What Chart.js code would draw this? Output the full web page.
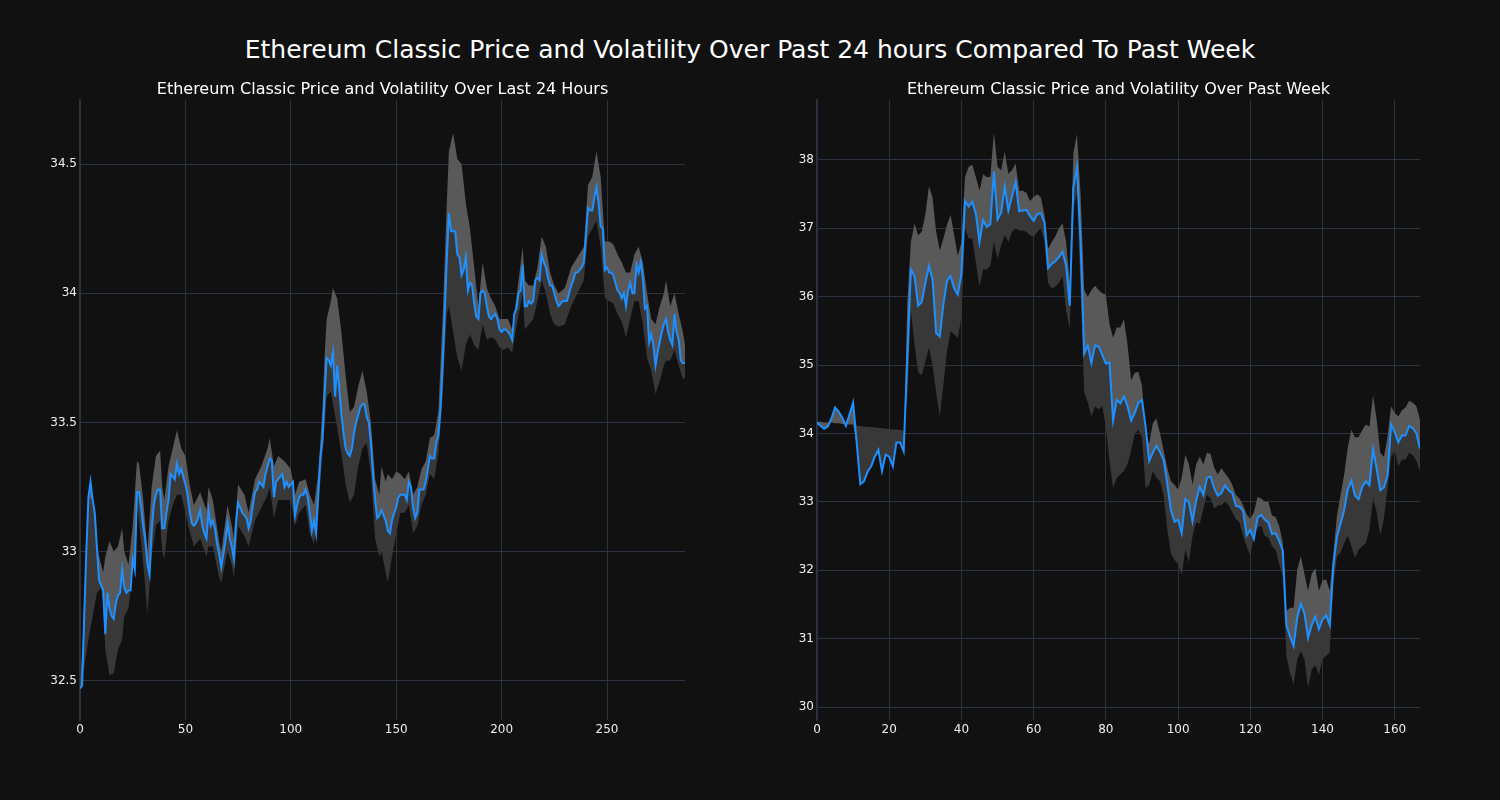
<!DOCTYPE html>
<html>
<head>
<meta charset="utf-8">
<script src="https://cdn.jsdelivr.net/npm/chart.js@4.4.0/dist/chart.umd.min.js"></script>
<style>
  html, body { margin: 0; padding: 0; background: #111111; }
  body { width: 1500px; height: 800px; position: relative; overflow: hidden; font-family: "DejaVu Sans", sans-serif; }
  #suptitle { position: absolute; left: 0; top: 34px; width: 1500px; text-align: center; color: #ffffff; font-size: 25px; line-height: 32px; }
  .subtitle { position: absolute; top: 78px; text-align: center; color: #ffffff; font-size: 16px; line-height: 22px; white-space: nowrap; }
  .box { position: absolute; top: 60px; width: 750px; height: 700px; }
</style>
</head>
<body>
<div id="suptitle">Ethereum Classic Price and Volatility Over Past 24 hours Compared To Past Week</div>
<div class="box" style="left:0"><canvas id="dayChart" width="750" height="700"></canvas></div>
<div class="box" style="left:750px"><canvas id="weekChart" width="750" height="700"></canvas></div>
<div class="subtitle" style="left:80px; width:605px">Ethereum Classic Price and Volatility Over Last 24 Hours</div>
<div class="subtitle" style="left:817px; width:603px">Ethereum Classic Price and Volatility Over Past Week</div>
<script>
// last 24 hours, 5 minute steps
const dayPrice = [
  32.47, 32.48, 32.75, 33.00, 33.21, 33.27, 33.20, 33.15, 33.02, 32.89,
  32.87, 32.85, 32.68, 32.84, 32.78, 32.75, 32.74, 32.80, 32.83, 32.84,
  32.93, 32.86, 32.84, 32.85, 32.85, 32.97, 32.93, 33.23, 33.23, 33.17,
  33.10, 33.04, 32.95, 32.91, 33.08, 33.18, 33.22, 33.24, 33.24, 33.09,
  33.09, 33.15, 33.20, 33.30, 33.29, 33.28, 33.34, 33.30, 33.32, 33.29,
  33.26, 33.22, 33.16, 33.11, 33.10, 33.11, 33.13, 33.16, 33.10, 33.07,
  33.05, 33.16, 33.10, 33.12, 33.09, 33.03, 32.99, 32.94, 32.99, 33.04,
  33.11, 33.05, 33.02, 32.97, 33.11, 33.19, 33.17, 33.15, 33.14, 33.13,
  33.09, 33.12, 33.18, 33.23, 33.24, 33.27, 33.26, 33.25, 33.30, 33.33,
  33.36, 33.35, 33.21, 33.27, 33.28, 33.29, 33.30, 33.25, 33.27, 33.25,
  33.26, 33.27, 33.14, 33.18, 33.21, 33.22, 33.22, 33.24, 33.21, 33.15,
  33.08, 33.12, 33.07, 33.22, 33.36, 33.43, 33.60, 33.75, 33.74, 33.72,
  33.77, 33.60, 33.72, 33.63, 33.53, 33.46, 33.40, 33.38, 33.37, 33.40,
  33.46, 33.50, 33.53, 33.56, 33.57, 33.57, 33.52, 33.50, 33.42, 33.30,
  33.20, 33.13, 33.14, 33.16, 33.14, 33.12, 33.08, 33.07, 33.12, 33.15,
  33.17, 33.21, 33.22, 33.22, 33.22, 33.20, 33.27, 33.25, 33.17, 33.13,
  33.15, 33.24, 33.24, 33.24, 33.27, 33.32, 33.37, 33.36, 33.36, 33.42,
  33.45, 33.55, 33.72, 33.92, 34.13, 34.31, 34.24, 34.24, 34.24, 34.15,
  34.14, 34.07, 34.09, 34.14, 34.01, 34.04, 34.03, 33.96, 33.91, 33.90,
  34.00, 34.01, 34.00, 33.95, 33.91, 33.90, 33.91, 33.92, 33.90, 33.86,
  33.85, 33.86, 33.86, 33.85, 33.84, 33.82, 33.92, 33.94, 34.00, 34.01,
  34.11, 33.95, 33.95, 33.97, 33.96, 33.97, 34.05, 34.06, 34.05, 34.15,
  34.12, 34.10, 34.06, 34.03, 34.03, 34.00, 33.97, 33.95, 33.96, 33.97,
  33.97, 33.97, 34.00, 34.03, 34.05, 34.08, 34.08, 34.09, 34.10, 34.12,
  34.22, 34.33, 34.32, 34.32, 34.37, 34.41, 34.35, 34.26, 34.25, 34.09,
  34.10, 34.08, 34.08, 34.07, 34.04, 34.01, 34.00, 33.98, 34.00, 33.95,
  34.01, 34.04, 34.00, 34.00, 34.11, 34.08, 34.12, 34.06, 33.94, 33.95,
  33.81, 33.84, 33.80, 33.72, 33.77, 33.81, 33.85, 33.88, 33.90, 33.85,
  33.82, 33.80, 33.92, 33.85, 33.82, 33.74, 33.73, 33.73
];

// volatility band edges for the 24 hour chart
const dayBandX = [
  0, 2, 4, 6, 8, 10, 11, 12, 14, 16,
  18, 20, 21, 23, 25, 27, 28, 30, 32, 34,
  36, 38, 39, 40, 42, 44, 46, 48, 50, 52,
  54, 57, 60, 61, 63, 66, 67, 70, 72, 73,
  75, 78, 80, 83, 86, 89, 90, 92, 94, 97,
  100, 102, 104, 107, 109, 111, 113, 115, 116, 117,
  119, 120, 122, 124, 126, 128, 130, 132, 134, 136,
  138, 140, 142, 143, 145, 146, 148, 150, 152, 154,
  156, 158, 160, 162, 164, 166, 168, 170, 172, 174,
  175, 177, 179, 181, 183, 185, 187, 189, 191, 193,
  195, 197, 199, 201, 203, 205, 207, 210, 211, 213,
  215, 217, 219, 221, 223, 225, 227, 230, 233, 236,
  239, 241, 243, 245, 247, 249, 251, 253, 255, 257,
  259, 261, 263, 265, 267, 269, 271, 273, 275, 277,
  278, 280, 282, 284, 286, 287
];
const dayUpper = [
  32.47, 32.75, 33.21, 33.20, 33.02, 32.95, 32.92, 32.98, 33.04, 33.00,
  33.02, 33.09, 33.00, 32.95, 33.10, 33.35, 33.34, 33.20, 33.00, 33.25,
  33.37, 33.39, 33.25, 33.20, 33.33, 33.40, 33.47, 33.40, 33.37, 33.26,
  33.18, 33.23, 33.16, 33.25, 33.20, 33.04, 33.00, 33.18, 33.10, 33.05,
  33.26, 33.22, 33.15, 33.28, 33.33, 33.40, 33.44, 33.33, 33.37, 33.35,
  33.32, 33.22, 33.27, 33.28, 33.22, 33.18, 33.30, 33.55, 33.75, 33.90,
  33.97, 34.02, 33.98, 33.85, 33.68, 33.54, 33.56, 33.64, 33.70, 33.62,
  33.50, 33.28, 33.22, 33.33, 33.27, 33.30, 33.28, 33.31, 33.30, 33.28,
  33.31, 33.22, 33.25, 33.32, 33.35, 33.44, 33.45, 33.54, 33.90, 34.35,
  34.55, 34.62, 34.52, 34.50, 34.35, 34.25, 34.10, 33.95, 34.12, 34.02,
  33.98, 33.95, 33.90, 33.90, 33.90, 33.86, 33.98, 34.18, 34.05, 34.03,
  34.03, 34.10, 34.22, 34.18, 34.08, 34.03, 34.00, 34.02, 34.10, 34.14,
  34.18, 34.42, 34.45, 34.55, 34.45, 34.20, 34.20, 34.19, 34.15, 34.12,
  34.08, 34.08, 34.15, 34.18, 34.12, 34.00, 33.90, 33.88, 33.95, 34.00,
  34.05, 33.95, 34.00, 33.92, 33.85, 33.80
];
const dayLower = [
  32.47, 32.55, 32.66, 32.75, 32.84, 32.86, 32.80, 32.62, 32.52, 32.53,
  32.62, 32.66, 32.75, 32.78, 32.93, 33.18, 33.12, 32.95, 32.76, 32.98,
  33.10, 33.12, 33.00, 32.97, 33.12, 33.18, 33.22, 33.22, 33.15, 33.08,
  33.02, 33.05, 32.98, 33.02, 33.02, 32.90, 32.88, 33.00, 32.95, 32.90,
  33.10, 33.06, 33.02, 33.12, 33.17, 33.22, 33.25, 33.13, 33.20, 33.20,
  33.20, 33.10, 33.15, 33.18, 33.07, 33.03, 33.15, 33.38, 33.48, 33.60,
  33.62, 33.57, 33.48, 33.38, 33.26, 33.19, 33.22, 33.33, 33.40, 33.42,
  33.30, 33.05, 32.98, 33.00, 32.92, 32.88, 32.98, 33.07, 33.15, 33.15,
  33.18, 33.07, 33.10, 33.18, 33.22, 33.30, 33.28, 33.38, 33.60, 33.92,
  33.95, 33.85, 33.75, 33.70, 33.80, 33.84, 33.80, 33.78, 33.88, 33.82,
  33.83, 33.82, 33.79, 33.78, 33.79, 33.77, 33.87, 34.00, 33.86, 33.88,
  33.90, 33.97, 34.05, 34.00, 33.92, 33.88, 33.87, 33.88, 33.95, 34.00,
  34.05, 34.22, 34.25, 34.28, 34.18, 33.98, 33.97, 33.96, 33.92, 33.89,
  33.83, 33.90, 33.97, 33.97, 33.88, 33.75, 33.70, 33.61, 33.66, 33.72,
  33.74, 33.74, 33.78, 33.72, 33.67, 33.67
];

// past week, hourly steps
const weekPrice = [
  34.16, 34.11, 34.07, 34.10, 34.22, 34.38, 34.32, 34.23, 34.11, 34.28,
  34.45, 33.86, 33.26, 33.30, 33.44, 33.52, 33.66, 33.76, 33.45, 33.69,
  33.66, 33.52, 33.87, 33.87, 33.74, 35.10, 36.40, 36.30, 35.87, 35.92,
  36.20, 36.45, 36.25, 35.47, 35.42, 35.89, 36.23, 36.30, 36.12, 36.03,
  36.34, 37.40, 37.32, 37.39, 37.21, 36.80, 37.12, 37.02, 37.06, 37.83,
  37.13, 37.23, 37.61, 37.26, 37.47, 37.68, 37.25, 37.26, 37.27, 37.18,
  37.11, 37.21, 37.22, 37.09, 36.42, 36.48, 36.52, 36.58, 36.66, 36.45,
  35.87, 37.60, 37.89, 36.80, 35.17, 35.29, 35.03, 35.29, 35.27, 35.15,
  35.02, 35.04, 34.19, 34.49, 34.44, 34.54, 34.40, 34.19, 34.30, 34.45,
  34.49, 34.10, 33.60, 33.72, 33.82, 33.73, 33.61, 33.27, 32.88, 32.71,
  32.74, 32.54, 33.04, 32.99, 32.71, 33.02, 33.22, 33.10, 33.35, 33.37,
  33.20, 33.09, 33.13, 33.24, 33.17, 33.13, 32.94, 32.93, 32.87, 32.51,
  32.59, 32.46, 32.77, 32.81, 32.74, 32.70, 32.53, 32.54, 32.43, 32.29,
  31.20, 31.03, 30.89, 31.31, 31.51, 31.37, 31.01, 31.20, 31.32, 31.14,
  31.28, 31.34, 31.20, 32.07, 32.49, 32.68, 32.88, 33.18, 33.31, 33.09,
  33.04, 33.22, 33.30, 33.24, 33.77, 33.48, 33.17, 33.21, 33.38, 34.13,
  34.02, 33.87, 33.97, 33.97, 34.11, 34.08, 34.00, 33.78
];
const weekUpper = [
  34.17, 34.17, 34.16, 34.16, 34.16, 34.15, 34.15, 34.14, 34.14, 34.13,
  34.13, 33.86, 33.26, 33.30, 33.44, 33.52, 33.66, 33.76, 33.45, 33.69,
  33.66, 33.52, 33.87, 33.87, 33.74, 35.90, 36.80, 37.07, 36.90, 36.95,
  37.20, 37.62, 37.45, 36.95, 36.68, 36.85, 37.05, 37.20, 36.90, 36.60,
  36.80, 37.75, 37.90, 37.93, 37.75, 37.55, 37.79, 37.75, 37.75, 38.40,
  37.90, 37.85, 38.12, 37.80, 37.85, 37.95, 37.55, 37.55, 37.52, 37.40,
  37.46, 37.50, 37.45, 37.20, 36.70, 36.80, 36.88, 37.00, 37.07, 36.80,
  36.20, 38.10, 38.38, 37.50, 36.10, 36.00, 36.10, 36.16, 36.10, 36.05,
  36.03, 35.60, 35.40, 35.55, 35.55, 35.67, 35.30, 34.78, 34.89, 34.90,
  34.70, 34.00, 33.85, 34.15, 34.22, 34.00, 33.75, 33.50, 33.30, 33.25,
  33.18, 33.35, 33.69, 33.55, 33.25, 33.55, 33.66, 33.55, 33.72, 33.70,
  33.50, 33.40, 33.49, 33.42, 33.35, 33.25, 33.10, 33.05, 32.95, 32.82,
  32.75, 32.85, 33.07, 33.05, 33.00, 33.00, 32.80, 32.78, 32.65, 32.40,
  31.40, 31.45, 31.45, 32.01, 32.20, 31.95, 31.70, 31.95, 32.03, 31.70,
  31.85, 31.87, 31.70, 32.25, 32.80, 33.10, 33.40, 33.80, 34.05, 33.94,
  33.95, 34.05, 34.13, 34.10, 34.56, 34.20, 33.72, 33.66, 33.95, 34.40,
  34.30, 34.25, 34.34, 34.38, 34.48, 34.45, 34.40, 34.20
];
const weekLower = [
  34.16, 34.11, 34.07, 34.10, 34.22, 34.38, 34.32, 34.23, 34.11, 34.28,
  34.45, 34.11, 34.11, 34.10, 34.10, 34.09, 34.09, 34.08, 34.08, 34.07,
  34.07, 34.06, 34.06, 34.05, 34.04, 34.50, 35.80, 35.30, 34.90, 34.85,
  35.05, 35.25, 35.00, 34.60, 34.25, 34.70, 35.20, 35.50, 35.45, 35.40,
  35.70, 37.00, 36.85, 36.85, 36.50, 36.15, 36.40, 36.40, 36.45, 36.80,
  36.56, 36.75, 36.90, 36.80, 36.95, 37.00, 36.97, 36.97, 36.95, 36.90,
  36.88, 36.95, 37.00, 36.80, 36.20, 36.12, 36.15, 36.20, 36.30, 35.80,
  35.53, 37.30, 37.50, 36.10, 34.60, 34.45, 34.25, 34.40, 34.35, 34.40,
  34.10, 33.60, 33.20, 33.35, 33.40, 33.45, 33.55, 33.75, 34.00, 34.05,
  33.95, 33.20, 33.25, 33.45, 33.35, 33.30, 33.10, 32.60, 32.25, 32.15,
  32.10, 31.93, 32.30, 32.12, 32.50, 32.70, 32.68, 32.90, 33.10, 33.05,
  32.90, 32.95, 32.95, 33.00, 32.95, 32.85, 32.75, 32.70, 32.50, 32.35,
  32.21, 32.50, 32.62, 32.65, 32.50, 32.48, 32.35, 32.30, 32.10, 31.90,
  30.75, 30.50, 30.33, 30.70, 30.81, 30.70, 30.28, 30.55, 30.61, 30.47,
  30.70, 30.75, 30.80, 31.80, 32.20, 32.26, 32.40, 32.50, 32.35, 32.18,
  32.30, 32.35, 32.40, 32.60, 33.05, 32.85, 32.51, 32.75, 33.20, 33.65,
  33.75, 33.52, 33.62, 33.62, 33.72, 33.68, 33.60, 33.44
];

const dayXTicks = [0, 50, 100, 150, 200, 250];
const dayYTicks = [32.5, 33, 33.5, 34, 34.5];
const dayYLabels = ['32.5', '33', '33.5', '34', '34.5'];
const weekXTicks = [0, 20, 40, 60, 80, 100, 120, 140, 160];
const weekYTicks = [30, 31, 32, 33, 34, 35, 36, 37, 38];
const weekYLabels = ['30', '31', '32', '33', '34', '35', '36', '37', '38'];

const gridColor = '#2a3340';
const textColor = '#eeeeee';
const lineColor = '#1e90ff';
const lightBand = '#595959';
const darkBand = '#383838';
const fontFamily = '"DejaVu Sans", sans-serif';

function toPoints(xs, ys) {
    return ys.map((y, i) => ({ x: xs ? xs[i] : i, y: y }));
}

function makeChart(id, cfg) {
    const ctx = document.getElementById(id).getContext('2d');
    return new Chart(ctx, {
        type: 'line',
        data: {
            datasets: [
                {
                    data: toPoints(null, cfg.price),
                    borderColor: lineColor,
                    borderWidth: 2,
                    pointRadius: 0,
                    fill: false
                },
                {
                    data: toPoints(cfg.bandX, cfg.upper),
                    borderColor: 'rgba(0,0,0,0)',
                    borderWidth: 1,
                    pointRadius: 0,
                    backgroundColor: lightBand,
                    fill: 0
                },
                {
                    data: toPoints(cfg.bandX, cfg.lower),
                    borderColor: 'rgba(0,0,0,0)',
                    borderWidth: 1,
                    pointRadius: 0,
                    backgroundColor: darkBand,
                    fill: 0
                }
            ]
        },
        options: {
            responsive: false,
            animation: false,
            layout: { padding: { left: 0, right: cfg.padRight, top: 40, bottom: 0 } },
            plugins: {
                legend: { display: false },
                tooltip: { enabled: false },
                title: { display: false }
            },
            scales: {
                x: {
                    type: 'linear',
                    min: 0,
                    max: cfg.price.length - 1,
                    afterBuildTicks: s => { s.ticks = cfg.xTicks.map(v => ({ value: v })); },
                    afterFit: s => { s.height = 40; },
                    grid: { color: gridColor, drawTicks: false },
                    border: { display: false },
                    ticks: {
                        color: textColor,
                        font: { family: fontFamily, size: 12 },
                        padding: 3,
                        maxRotation: 0,
                        autoSkip: false
                    }
                },
                y: {
                    min: cfg.yMin,
                    max: cfg.yMax,
                    afterBuildTicks: s => { s.ticks = cfg.yTicks.map(v => ({ value: v })); },
                    afterFit: s => { s.width = cfg.axisWidth; },
                    grid: { color: gridColor, drawTicks: false },
                    border: { display: true, color: gridColor, width: 1.5 },
                    ticks: {
                        color: textColor,
                        font: { family: fontFamily, size: 12 },
                        padding: 3,
                        callback: v => cfg.yLabels[cfg.yTicks.indexOf(v)]
                    }
                }
            }
        }
    });
}

makeChart('dayChart', {
    price: dayPrice, bandX: dayBandX, upper: dayUpper, lower: dayLower,
    xTicks: dayXTicks, yTicks: dayYTicks, yLabels: dayYLabels,
    yMin: 32.348, yMax: 34.748, axisWidth: 80, padRight: 65
});

makeChart('weekChart', {
    price: weekPrice, bandX: null, upper: weekUpper, lower: weekLower,
    xTicks: weekXTicks, yTicks: weekYTicks, yLabels: weekYLabels,
    yMin: 29.81, yMax: 38.877, axisWidth: 67, padRight: 80
});
</script>
</body>
</html>
